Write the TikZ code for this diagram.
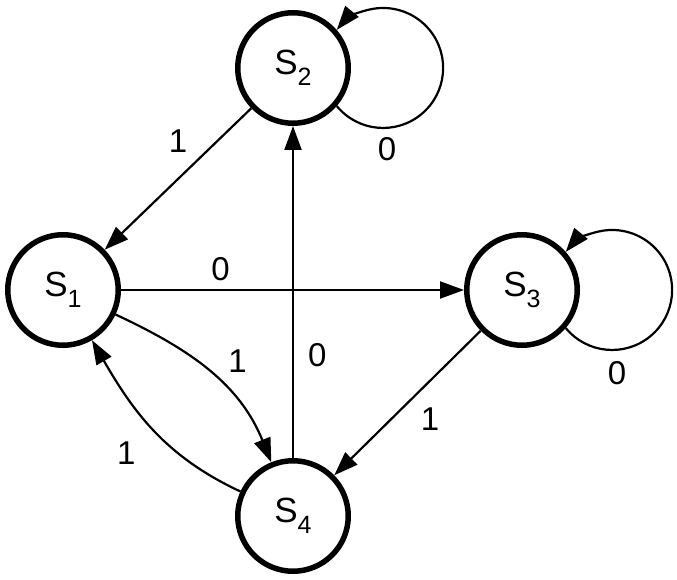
\documentclass[tikz,border=0pt]{standalone}
\usepackage{fontspec}
\setmainfont{Liberation Sans}
\usetikzlibrary{arrows.meta,calc}
\newcommand{\sname}[1]{S\raisebox{-11pt}{\fontsize{25}{25}\selectfont #1}}

\begin{document}
\begin{tikzpicture}[
    x=1pt, y=1pt,
    state/.style={draw, circle, line width=5.5pt, minimum size=110.5pt, inner sep=0pt, font=\fontsize{35}{40}\selectfont},
    trans/.style={draw, line width=2.2pt, -{Triangle[length=24pt, width=17pt]}},
    lbl/.style={inner sep=8pt, font=\fontsize{33}{36}\selectfont},
]
    \useasboundingbox (0,0) rectangle (677,579);
    \node[state] (s1) at (63,289) {\sname{1}};
    \node[state] (s2) at (293,511) {\sname{2}};
    \node[state] (s3) at (522,289) {\sname{3}};
    \node[state] (s4) at (293,63) {\sname{4}};

    \draw[trans] (s2) -- node[lbl, pos=0.375, above left] (l21) {1} (s1);
    \draw[trans] (s1) -- node[lbl, pos=0.29, above] (l13) {0} (s3);
    \draw[trans] (s4) -- node[lbl, pos=0.31, right, xshift=6pt] (l42) {0} (s2);
    \draw[trans] (s3) -- node[lbl, pos=0.47, below right] (l34) {1} (s4);
    \draw[trans] (s1) to[out=-25, in=112] node[lbl, pos=0.5, above right, xshift=9pt, yshift=-9pt] (l14) {1} (s4);
    \draw[trans] (s4) to[out=155, in=-60] node[lbl, pos=0.5, below left, xshift=-9pt, yshift=-3pt] (l41) {1} (s1);

    % self loops
    \draw[trans] (s2.-41) arc[start angle=-140.6, end angle=140.6, radius=60pt];
    \node[lbl] (l22) at ($(s2)+(94,-81)$) {0};
    \draw[trans] (s3.-41) arc[start angle=-140.6, end angle=140.6, radius=60pt];
    \node[lbl] (l33) at ($(s3)+(95,-83)$) {0};
\end{tikzpicture}
\end{document}
